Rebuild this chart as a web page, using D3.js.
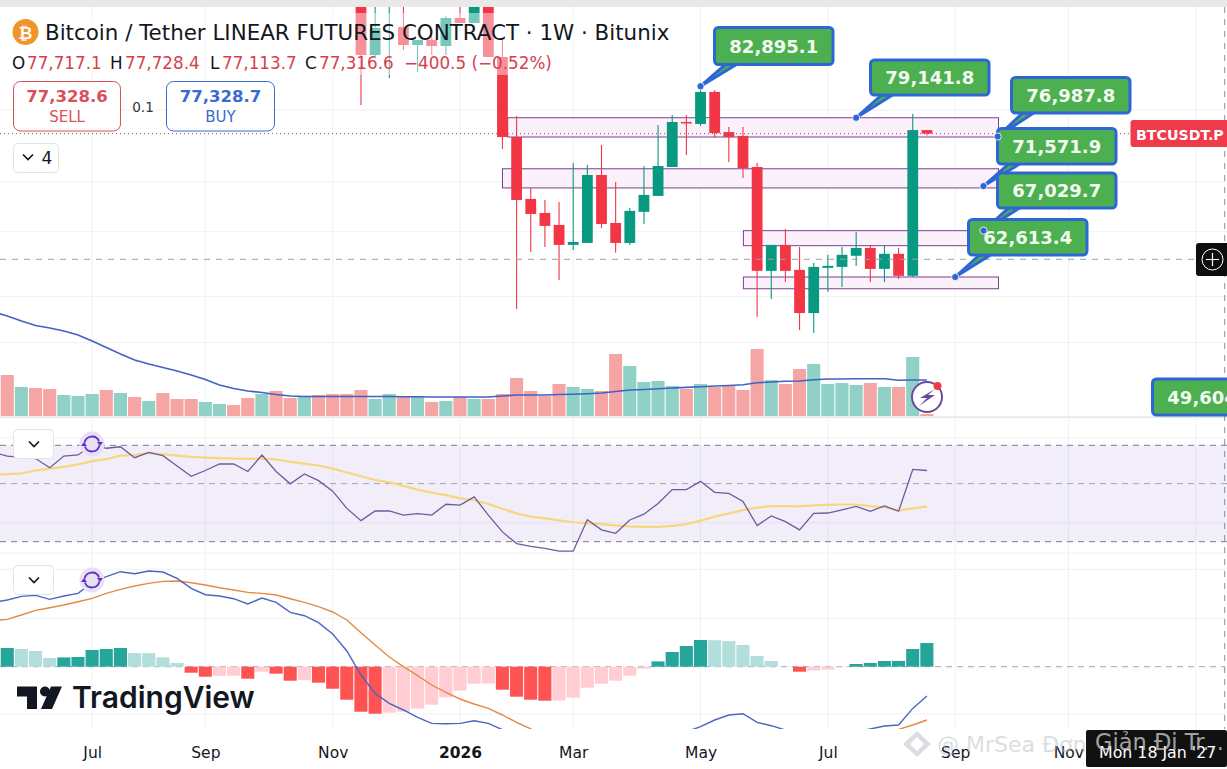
<!DOCTYPE html>
<html>
<head>
    <meta charset="utf-8">
    <title>Bitcoin / Tether LINEAR FUTURES CONTRACT</title>
    <script src="https://d3js.org/d3.v7.min.js"></script>
    <style>
        html, body { margin: 0; padding: 0; background: #fff; overflow: hidden; }
        svg { display: block; font-family: "DejaVu Sans", sans-serif; }
        .tick text { font-family: "DejaVu Sans", sans-serif; }
    </style>
</head>
<body>
    <svg id="chart" width="1227" height="769"></svg>

    <script>
        // week index of the first candle that shows in the frame
        var firstCandle = 25;
        var candleOpen = [95500, 86800, 94000, 90450, 88080, 88726, 87950, 91650, 90980, 94000, 86540, 76930, 70230, 68800, 67600,
            65640, 65830, 72750, 67790, 65830, 68910, 70545, 73610, 78650, 78420, 82204, 77490, 77050, 73610, 63180, 65640,
            63270, 59380, 63460, 63550, 64600, 65350, 63365, 64785, 62720, 77717.1];
        var candleHigh = [97000, 93800, 96000, 93500, 88726, 89125, 91900, 93500, 94500, 95000, 88990, 79350, 71380, 70124, 69920,
            74045, 73830, 76040, 72010, 69310, 73720, 78305, 79470, 79470, 82895.1, 82446, 78075, 78075, 74045, 65640, 67200,
            65450, 63925, 64690, 65450, 66905, 65640, 65545, 65350, 79580, 77728.4];
        var candleLow = [80645, 86600, 83908, 87440, 84655, 86800, 86800, 90980, 90980, 86540, 75595, 59735, 64970, 65450, 62342,
            65160, 65830, 67300, 64880, 65640, 67695, 70545, 73610, 74930, 78190, 76820, 74150, 72430, 59040, 60625, 62160,
            57925, 57670, 61260, 61710, 63645, 62160, 62160, 62435, 62620, 77113.7];
        var candleClose = [86800, 90320, 95000, 88080, 88726, 87950, 91650, 90980, 94000, 86540, 76930, 70124, 68700, 67500, 65640,
            65926, 72750, 67695, 65830, 69010, 70650, 73720, 78650, 78534, 82204, 77375, 76930, 73500, 63180, 65640, 63180,
            59380, 63550, 63645, 64690, 65350, 63365, 64785, 62720, 77717, 77316.6];

        var volume = [41, 29, 28, 27, 21, 20, 22, 26, 23, 19, 15, 23, 17, 17, 14, 12, 11, 18, 22, 25, 18, 19, 21, 22, 22, 26, 17, 22, 19, 20, 14, 15, 19, 17,
            17, 22, 38, 25, 20, 32, 29, 27, 25, 62, 50, 34, 35, 30, 27, 32, 29, 30, 26, 67, 36, 32, 47, 52, 32, 33, 31, 33, 29, 29, 59, 2];
        var volumeUp = [0, 1, 0, 0, 1, 1, 1, 0, 1, 0, 1, 0, 0, 0, 1, 1, 0, 0, 1, 0, 0, 1, 0, 0, 0, 0, 1, 1, 0, 1, 0, 1, 0, 1,
            0, 0, 0, 0, 0, 0, 1, 1, 0, 0, 1, 1, 1, 1, 0, 1, 0, 0, 0, 0, 1, 0, 0, 1, 1, 1, 1, 0, 1, 0, 1, 0];
        // the line series start one week left of the frame
        var volumeMA = [104, 100, 95, 90.5, 88, 85, 81, 75, 68.5, 62, 56, 52, 48.5, 45, 41, 36.5, 31, 27.5, 25, 23.5, 21.5, 20, 19.5, 19.5, 19.5, 19.5, 19.5, 19.5, 19.5, 19.3, 19.3, 19, 19, 19, 19,
            19, 20, 21, 21, 21, 21.5, 21.8, 22.3, 23, 24.5, 26, 26.5, 27.3, 28, 28.6, 29.2, 30, 30.5, 31.2, 33.3, 34, 34.7, 35, 36.3, 37, 37, 37.2, 37.3, 37.3, 35.7, 36, 36];

        var rsi = [65.8, 63.7, 63, 62.3, 57.5, 63.7, 64.3, 70.2, 68.2, 69.1, 62.8, 65.8, 63.9, 58.4, 53.3, 56.1, 59.4, 59.4, 55.6, 64.3, 55.6, 49.9, 54.4, 51.3, 46.8, 40.2, 36.1, 39.3, 39.3, 37.9, 38.4, 37.9, 41.7, 41.4, 44.5,
            37.9, 32.7, 29.5, 28.8, 28.3, 27.6, 27.6, 36.4, 33.3, 32.3, 36.3, 38.2, 42, 47.4, 47.4, 51, 46.3, 45.9, 42.7, 34.6, 37.6, 35.8, 33.3, 38.5, 38.6, 39.7, 40.9, 39.2, 41.1, 39.2, 56.6, 56.1];
        var rsiMA = [54.2, 54.3, 54.7, 56.1, 57, 57.9, 59.2, 60.9, 62, 63.9, 64.3, 65.3, 64.7, 63.9, 63.2, 62.8, 62.5, 62.3, 62.1, 62.3, 61.8, 60.5, 59.6, 58.6, 57, 55.1, 53.3, 51.6, 50.5, 49, 47.4, 46.2, 45.2, 43.9, 43.2,
            41.8, 40.1, 38.5, 37.4, 36.8, 36.2, 35.6, 35.3, 35, 34.6, 34.3, 34.2, 34.2, 34.5, 35, 36.1, 37.4, 38.5, 39.6, 40.5, 41, 41, 40.9, 41.3, 41.5, 41.6, 41.6, 41, 40.6, 39.5, 40.2, 40.9];
        var rsiLevels = [70, 50, 30];

        var macd = [64.3, 66.7, 70.3, 71.3, 67.3, 70.7, 73.3, 84, 90, 95, 93, 95.7, 94.7, 88.3, 78.3, 72, 70.7, 68, 62.7, 68.7, 64.3, 54.3, 51, 44, 32.7, 15.7, -8.3, -26.7, -36.7, -43.3, -50.7, -56.7, -57, -56.7, -54,
            -56.7, -63, -70, -85, -100, -105, -105, -98, -90, -85, -80, -75, -72, -68, -65, -60, -53.3, -48.3, -47, -55.7, -59, -63.3, -70, -72, -72, -70, -65, -62.3, -59.3, -58.3, -41.7, -29.3];
        var macdSignal = [46, 47.3, 51.7, 56.3, 59, 61.7, 65, 68.3, 73.3, 77.3, 80.7, 83.3, 85.3, 85.7, 84, 81.7, 79, 76.7, 74.3, 73.3, 71.7, 68, 64.3, 60, 54.7, 46.7, 34, 21.7, 9.7, 0, -9, -18.3, -25.7, -32.3, -37.3,
            -41.7, -48.3, -55.7, -62.3, -70, -75, -78, -80, -82, -83, -83, -83, -82, -80, -78, -75, -73, -72, -71, -70, -70, -69, -69, -69, -69, -69, -68, -68, -67, -62.7, -58.3, -53.3];
        var macdHist = [18.7, 17.7, 15.7, 8.7, 9.3, 9.7, 16.7, 17.7, 18.7, 13.7, 13.6, 9.3, 3.7, -6, -10, -9.2, -9, -12, -5, -7, -14, -13.5, -16, -22, -33, -45, -47, -46, -45, -42, -38, -30.7, -24, -17,
            -16.8, -23, -30, -33, -34, -33.8, -31, -21, -17, -14, -9, -2, 5.3, 14.7, 20.7, 26.7, 26.5, 25.7, 21.7, 10.7, 5.7, 0.3, -5, -3.7, -3, -0.3, 2.7, 3.7, 5.7, 5.8, 17.7, 23.7];

        var monthWeeks = [6, 14, 23, 32, 40, 49, 58, 67, 75];
        var monthLabels = ["Jul", "Sep", "Nov", "2026", "Mar", "May", "Jul", "Sep", "Nov"];
        var gridWeeks = [6, 14, 23, 32, 40, 49, 58, 67, 75, 84];
        var priceGrid = [80048, 72040, 66930, 60840, 56850];

        // drawn rectangles: start week, end week, top price, bottom price
        var zoneStart = [35.37, 35, 52.03, 52.03];
        var zoneEnd = [70.06, 70.06, 70.06, 70.06];
        var zoneTop = [79141.8, 73420, 67029.7, 62613.4];
        var zoneBottom = [76930, 71380, 65565, 61540];

        // callouts, in drawing order
        var calloutLabels = ["82,895.1", "79,141.8", "76,987.8", "71,571.9", "67,029.7", "62,613.4"];
        var calloutPrices = [82895.1, 79141.8, 76987.8, 71571.9, 67029.7, 62613.4];
        var calloutWeeks = [49, 60, 70, 69, 69, 67];

        var upColor = "#089981", downColor = "#f23645";

        var svg = d3.select("#chart");

        var x = d3.scaleLinear().domain([0, 65]).range([7.3, 926.9]);
        // price pane is on a log scale
        var yPrice = d3.scaleLog().domain([76987.8, 62613.4]).range([136.5, 277]);
        var yVol = d3.scaleLinear().domain([0, 100]).range([416, 316]);
        var yRsi = d3.scaleLog().domain([70, 30]).range([445.3, 541.7]);
        var yMacd = d3.scaleLinear().domain([-100, 100]).range([766.7, 566.7]);

        var defs = svg.append("defs");
        function addClip(id, top, bottom) {
            defs.append("clipPath").attr("id", id).append("rect")
                .attr("x", 0).attr("y", top).attr("width", 1227).attr("height", bottom - top);
        }
        addClip("clipPrice", 7, 345);
        addClip("clipRsi", 425, 552.5);
        addClip("clipMacd", 555, 729);

        // grid
        var grid = svg.append("g").attr("stroke", "#f0f1f3").attr("stroke-width", 1);
        grid.selectAll(".v").data(gridWeeks).enter().append("line")
            .attr("x1", function(d) { return x(d); }).attr("x2", function(d) { return x(d); })
            .attr("y1", 7).attr("y2", 729);
        grid.selectAll(".p").data(priceGrid).enter().append("line")
            .attr("x1", 0).attr("x2", 1227)
            .attr("y1", function(d) { return yPrice(d); }).attr("y2", function(d) { return yPrice(d); });
        grid.selectAll(".o").data([438, 522.7, 553, 569.3, 618.7, 714]).enter().append("line")
            .attr("x1", 0).attr("x2", 1227)
            .attr("y1", function(d) { return d; }).attr("y2", function(d) { return d; });

        // top strip
        svg.append("rect").attr("x", 0).attr("y", 0).attr("width", 1227).attr("height", 7).attr("fill", "#e9e9e9");

        // zones
        svg.append("g").selectAll("rect").data(zoneTop).enter().append("rect")
            .attr("x", function(d, i) { return x(zoneStart[i]); })
            .attr("width", function(d, i) { return x(zoneEnd[i]) - x(zoneStart[i]); })
            .attr("y", function(d) { return yPrice(d); })
            .attr("height", function(d, i) { return yPrice(zoneBottom[i]) - yPrice(d); })
            .attr("fill", "#fbf1fb")
            .attr("stroke", "#7b3f8f")
            .attr("stroke-width", 1);

        // candles
        var candles = svg.append("g").attr("clip-path", "url(#clipPrice)");
        candleOpen.forEach(function(open, i) {
            var week = firstCandle + i;
            var close = candleClose[i];
            var color = close >= open ? upColor : downColor;
            candles.append("line")
                .attr("x1", x(week)).attr("x2", x(week))
                .attr("y1", yPrice(candleHigh[i])).attr("y2", yPrice(candleLow[i]))
                .attr("stroke", color).attr("stroke-width", 1.1);
            var top = yPrice(Math.max(open, close)), bottom = yPrice(Math.min(open, close));
            candles.append("rect")
                .attr("x", x(week) - 5.4).attr("width", 10.8)
                .attr("y", top).attr("height", Math.max(bottom - top, 1.5))
                .attr("fill", color);
        });

        // last price dotted line
        svg.append("line")
            .attr("x1", 0).attr("x2", 1130)
            .attr("y1", yPrice(77316.6)).attr("y2", yPrice(77316.6))
            .attr("stroke", "#a0505f").attr("stroke-width", 1).attr("stroke-dasharray", "1 3");

        // crosshair
        svg.append("line").attr("x1", 0).attr("x2", 1196).attr("y1", 259.3).attr("y2", 259.3)
            .attr("stroke", "#9a9ea8").attr("stroke-width", 1).attr("stroke-dasharray", "6 6");

        // volume
        var lineWeek = function(d, i) { return x(i - 1); };
        svg.append("g").selectAll("rect").data(volume).enter().append("rect")
            .attr("x", function(d, i) { return x(i) - 6.6; })
            .attr("width", 13.1)
            .attr("y", function(d) { return yVol(d); })
            .attr("height", function(d) { return yVol(0) - yVol(d); })
            .attr("fill", function(d, i) { return volumeUp[i] ? "#8fd1c6" : "#f6a5a5"; });
        svg.append("path").datum(volumeMA)
            .attr("d", d3.line().x(lineWeek).y(function(d) { return yVol(d); }))
            .attr("fill", "none").attr("stroke", "#3f62c4").attr("stroke-width", 1.6);
        svg.append("rect").attr("x", 0).attr("y", 416.4).attr("width", 1227).attr("height", 1.6).attr("fill", "#e6e7ea");

        // volume alert icon
        var bolt = svg.append("g");
        bolt.append("circle").attr("cx", 927).attr("cy", 397).attr("r", 15)
            .attr("fill", "#fff").attr("stroke", "#6a4a9c").attr("stroke-width", 2);
        bolt.append("path").attr("d", "M935 389 L920 398 L927 398 L919 406 L935 395 L928 395 Z").attr("fill", "#6a4a9c");
        bolt.append("circle").attr("cx", 937.5).attr("cy", 386).attr("r", 4).attr("fill", "#ee3b4c");

        // RSI
        svg.append("rect")
            .attr("x", 0).attr("width", 1227)
            .attr("y", yRsi(70)).attr("height", yRsi(30) - yRsi(70))
            .attr("fill", "#7e57c2").attr("fill-opacity", 0.1);
        svg.append("g").selectAll("line").data(rsiLevels).enter().append("line")
            .attr("x1", 0).attr("x2", 1227)
            .attr("y1", function(d) { return yRsi(d); }).attr("y2", function(d) { return yRsi(d); })
            .attr("stroke", function(d) { return d === 50 ? "#a9a4b4" : "#787b86"; })
            .attr("stroke-width", 1).attr("stroke-dasharray", "6 5");
        var rsiGroup = svg.append("g").attr("clip-path", "url(#clipRsi)");
        rsiGroup.append("path").datum(rsiMA)
            .attr("d", d3.line().x(lineWeek).y(function(d) { return yRsi(d); }))
            .attr("fill", "none").attr("stroke", "#f6d77e").attr("stroke-width", 2.2);
        rsiGroup.append("path").datum(rsi)
            .attr("d", d3.line().x(lineWeek).y(function(d) { return yRsi(d); }))
            .attr("fill", "none").attr("stroke", "#6e5a9e").attr("stroke-width", 1.3);

        // MACD
        svg.append("line").attr("x1", 0).attr("x2", 1225).attr("y1", yMacd(0)).attr("y2", yMacd(0))
            .attr("stroke", "#a3a6af").attr("stroke-width", 1).attr("stroke-dasharray", "6 5");
        svg.append("g").selectAll("rect").data(macdHist).enter().append("rect")
            .attr("x", function(d, i) { return x(i) - 6.6; })
            .attr("width", 13.1)
            .attr("y", function(d) { return yMacd(Math.max(d, 0)); })
            .attr("height", function(d) { return Math.abs(yMacd(d) - yMacd(0)); })
            .attr("fill", function(d, i) {
                var rising = i === 0 || d > macdHist[i - 1];
                if (d >= 0) return rising ? "#26a69a" : "#b2dfdb";
                return rising ? "#ffcdd2" : "#ff5252";
            });
        var macdGroup = svg.append("g").attr("clip-path", "url(#clipMacd)");
        macdGroup.append("path").datum(macdSignal)
            .attr("d", d3.line().x(lineWeek).y(function(d) { return yMacd(d); }))
            .attr("fill", "none").attr("stroke", "#e58a45").attr("stroke-width", 1.4);
        macdGroup.append("path").datum(macd)
            .attr("d", d3.line().x(lineWeek).y(function(d) { return yMacd(d); }))
            .attr("fill", "none").attr("stroke", "#4a66c2").attr("stroke-width", 1.4);

        // vertical crosshair
        svg.append("line").attr("x1", 1224.7).attr("x2", 1224.7).attr("y1", 7).attr("y2", 730)
            .attr("stroke", "#8a8d96").attr("stroke-width", 1).attr("stroke-dasharray", "6 6");

        // time axis
        svg.append("rect").attr("x", 0).attr("y", 729).attr("width", 1227).attr("height", 40).attr("fill", "#fff");
        var axis = svg.append("g")
            .attr("transform", "translate(0,743)")
            .call(d3.axisBottom(x)
                .tickValues(monthWeeks)
                .tickSize(0)
                .tickPadding(4)
                .tickFormat(function(d, i) { return monthLabels[i]; }));
        axis.select(".domain").remove();
        axis.selectAll("text")
            .attr("fill", "#131722")
            .style("font-size", "15.5px")
            .style("font-weight", function(d, i) { return monthLabels[i] === "2026" ? "700" : "400"; });

        // legend area fades the candles behind it
        svg.append("rect").attr("x", 0).attr("y", 13).attr("width", 670).attr("height", 32).attr("fill", "#fff").attr("fill-opacity", 0.45);
        svg.append("rect").attr("x", 0).attr("y", 45).attr("width", 545).attr("height", 30).attr("fill", "#fff").attr("fill-opacity", 0.45);

        // header
        svg.append("circle").attr("cx", 25.5).attr("cy", 32).attr("r", 13).attr("fill", "#f0952b");
        svg.append("text").attr("x", 25.5).attr("y", 38.5).attr("text-anchor", "middle")
            .attr("fill", "#fff").style("font-size", "17px").style("font-weight", "700").text("₿");
        svg.append("text").attr("x", 45).attr("y", 39.5).attr("fill", "#131722")
            .style("font-size", "21.4px").text("Bitcoin / Tether LINEAR FUTURES CONTRACT · 1W · Bitunix");

        var ohlcNames = ["O", "H", "L", "C"];
        var ohlcValues = ["77,717.1", "77,728.4", "77,113.7", "77,316.6"];
        var ohlcNameX = [12, 110, 210, 305];
        var ohlcValueX = [27, 125, 222, 319];
        var ohlc = svg.append("g").style("font-size", "16.8px");
        ohlcNames.forEach(function(name, i) {
            ohlc.append("text").attr("x", ohlcNameX[i]).attr("y", 68.5).attr("fill", "#131722").text(name);
            ohlc.append("text").attr("x", ohlcValueX[i]).attr("y", 68.5).attr("fill", "#d6404e").text(ohlcValues[i]);
        });
        ohlc.append("text").attr("x", 404).attr("y", 68.5).attr("fill", "#d6404e").text("−400.5 (−0.52%)");

        function tradeButton(left, w, color, price, label) {
            svg.append("rect").attr("x", left).attr("y", 81.5).attr("width", w).attr("height", 49.5).attr("rx", 7)
                .attr("fill", "#fff").attr("stroke", color).attr("stroke-width", 1);
            svg.append("text").attr("x", left + w / 2).attr("y", 102).attr("text-anchor", "middle").attr("fill", color)
                .style("font-size", "16.5px").style("font-weight", "700").text(price);
            svg.append("text").attr("x", left + w / 2).attr("y", 122).attr("text-anchor", "middle").attr("fill", color)
                .style("font-size", "15px").text(label);
        }
        tradeButton(13.5, 107, "#d9505c", "77,328.6", "SELL");
        tradeButton(166.5, 108, "#3a6bd0", "77,328.7", "BUY");
        svg.append("text").attr("x", 143).attr("y", 112).attr("text-anchor", "middle").attr("fill", "#333")
            .style("font-size", "13.5px").text("0.1");

        // collapse buttons
        function chevronButton(left, top, w, h, cx, cy) {
            svg.append("rect").attr("x", left).attr("y", top).attr("width", w).attr("height", h).attr("rx", 4)
                .attr("fill", "#fff").attr("stroke", "#e2e3e6");
            svg.append("path").attr("d", "M" + (cx - 5) + " " + (cy - 2.5) + " L" + cx + " " + (cy + 2.5) + " L" + (cx + 5) + " " + (cy - 2.5))
                .attr("fill", "none").attr("stroke", "#131722").attr("stroke-width", 1.7);
        }
        chevronButton(13.5, 143.5, 45, 29, 28, 157);
        svg.append("text").attr("x", 47).attr("y", 164).attr("text-anchor", "middle").attr("fill", "#131722")
            .style("font-size", "17px").text("4");
        chevronButton(13.5, 429.5, 40, 29, 34, 444);
        chevronButton(13.5, 565.5, 40, 29, 34, 580);

        // refresh icons on the indicator panes
        function refreshIcon(cx, cy) {
            svg.append("circle").attr("cx", cx).attr("cy", cy).attr("r", 12.5).attr("fill", "#e9e0f5");
            var arc = d3.arc().innerRadius(6.6).outerRadius(8.4);
            [[-80, 70], [100, 250]].forEach(function(a) {
                svg.append("path")
                    .attr("transform", "translate(" + cx + "," + cy + ")")
                    .attr("d", arc({ startAngle: a[0] * Math.PI / 180, endAngle: a[1] * Math.PI / 180 }))
                    .attr("fill", "#5b32c8");
            });
            svg.append("path").attr("d", "M" + (cx + 5) + " " + (cy - 2) + " h6 l-3 4 Z").attr("fill", "#5b32c8");
            svg.append("path").attr("d", "M" + (cx - 11) + " " + (cy + 2) + " h6 l-3 -4 Z").attr("fill", "#5b32c8");
        }
        refreshIcon(92, 444);
        refreshIcon(92, 580);

        // TradingView logo
        var logo = svg.append("g").attr("fill", "#131722");
        logo.append("path").attr("d", "M17 686.5 H37 V709 H27 V696.5 H17 Z");
        logo.append("circle").attr("cx", 45).attr("cy", 691.5).attr("r", 5);
        logo.append("path").attr("d", "M51 686.5 H62 L52 709 H41 Z");
        svg.append("text").attr("x", 72).attr("y", 707.5).attr("fill", "#131722")
            .style("font-family", "Inter, sans-serif").style("font-size", "30px").style("font-weight", "600").text("TradingView");

        // price label and zoom box on the right
        svg.append("rect").attr("x", 1130.5).attr("y", 120).attr("width", 100).attr("height", 27).attr("rx", 3).attr("fill", "#ef3a4b");
        svg.append("text").attr("x", 1136).attr("y", 139.5).attr("fill", "#fff")
            .style("font-size", "14.2px").style("font-weight", "700").text("BTCUSDT.P");
        svg.append("rect").attr("x", 1196).attr("y", 243).attr("width", 36).attr("height", 33).attr("rx", 3).attr("fill", "#0e0e0e");
        svg.append("circle").attr("cx", 1212.5).attr("cy", 259.5).attr("r", 10.5).attr("fill", "none").attr("stroke", "#fff");
        svg.append("path").attr("d", "M1206 259.5 H1219 M1212.5 253 V266").attr("stroke", "#fff").attr("stroke-width", 1.2);

        // callouts
        var calloutBlue = "#2f66d6", calloutGreen = "#4caf50";
        function callout(left, top, w, h, label, tailTo) {
            var g = svg.append("g");
            if (tailTo) {
                g.append("path")
                    .attr("d", "M" + tailTo[0] + " " + tailTo[1] + " L" + (left + 11) + " " + (top + h) + " L" + (left + 22) + " " + (top + h) + " Z")
                    .attr("fill", calloutGreen).attr("stroke", calloutBlue).attr("stroke-width", 3).attr("stroke-linejoin", "round");
            }
            g.append("rect").attr("x", left).attr("y", top).attr("width", w).attr("height", h).attr("rx", 4)
                .attr("fill", calloutGreen).attr("stroke", calloutBlue).attr("stroke-width", 3);
            g.append("text").attr("x", left + w / 2).attr("y", top + h / 2 + 6.5).attr("text-anchor", "middle")
                .attr("fill", "#f3fbf0").style("font-size", "18px").style("font-weight", "700").text(label);
        }
        var boxLeft = [714.5, 870.5, 1011.5, 997.5, 997.5, 968.5];
        var boxTop = [27.5, 60, 77.5, 128.5, 173, 219.5];
        var boxHeight = [37, 35, 35.5, 35.5, 35, 35.5];
        calloutLabels.forEach(function(label, i) {
            callout(boxLeft[i], boxTop[i], 118.5, boxHeight[i], label, [x(calloutWeeks[i]), yPrice(calloutPrices[i])]);
        });
        callout(1152.5, 379, 118.5, 36, "49,604.0", null);
        // anchor dots sit above every box
        svg.append("g").selectAll("circle").data(calloutPrices).enter().append("circle")
            .attr("cx", function(d, i) { return x(calloutWeeks[i]); })
            .attr("cy", function(d) { return yPrice(d); })
            .attr("r", 3.6)
            .attr("fill", calloutBlue).attr("stroke", "#fff").attr("stroke-width", 0.8);

        // black time label
        svg.append("rect").attr("x", 1086).attr("y", 730).attr("width", 141).attr("height", 37).attr("rx", 2).attr("fill", "#111");
        svg.append("text").attr("x", 1099).attr("y", 758).attr("fill", "#fff")
            .style("font-size", "15.8px").text("Mon 18 Jan '27");

        // watermark on top of it all
        var mark = svg.append("g").attr("fill", "#b9bcc2").attr("fill-opacity", 0.5);
        mark.append("path").attr("d", "M917 731 L931 744 L917 757 L903 744 Z M917 737 L910 744 L917 751 L924 744 Z").attr("fill-rule", "evenodd");
        mark.append("text").attr("x", 937).attr("y", 752).style("font-size", "22px").text("@ MrSea Đơn");
        svg.append("text").attr("x", 1095).attr("y", 750).attr("fill", "#c9c9c9").attr("fill-opacity", 0.8)
            .style("font-size", "22.5px").text("Giản Đi Tr...");
    </script>
</body>
</html>
